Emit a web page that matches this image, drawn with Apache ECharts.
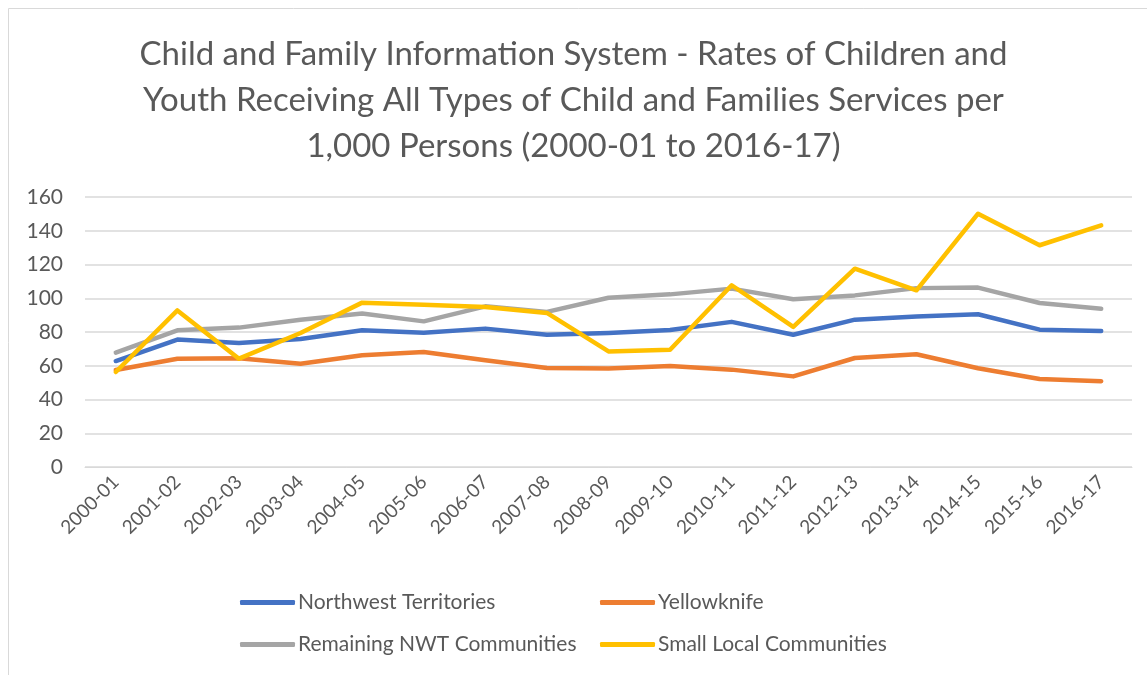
<!DOCTYPE html>
<html>
<head>
<meta charset="utf-8">
<script src="https://cdn.jsdelivr.net/npm/echarts@6/dist/echarts.min.js"></script>
<style>
  html, body { margin: 0; padding: 0; background: #fff; }
  #chart { width: 1147px; height: 675px; }
</style>
</head>
<body>
<div id="chart"></div>
<script>
const years = ['2000-01', '2001-02', '2002-03', '2003-04', '2004-05', '2005-06', '2006-07', '2007-08', '2008-09',
  '2009-10', '2010-11', '2011-12', '2012-13', '2013-14', '2014-15', '2015-16', '2016-17']
const nwt = [62.8, 75.5, 73.5, 75.8, 81, 79.6, 82, 78.4, 79.4, 81.2, 86, 78.4, 87.3, 89.2, 90.5, 81.4, 80.6]
const yellowknife = [57.5, 64.2, 64.4, 61.2, 66.2, 68.1, 63.2, 58.7, 58.3, 59.9, 57.7, 53.7, 64.6, 66.8, 58.5, 52.2, 50.8]
const remaining = [67.8, 81, 82.6, 87.3, 90.9, 86.3, 95.2, 91.9, 100.3, 102.3, 105.7, 99.4, 101.7, 106, 106.3, 97.2, 93.8]
const smallLocal = [56.3, 92.8, 64.2, 79.4, 97.4, 96.2, 94.8, 91.3, 68.5, 69.5, 107.7, 83, 117.5, 104.7, 150.1, 131.4, 143.2]

const names = ['Northwest Territories', 'Yellowknife', 'Remaining NWT Communities', 'Small Local Communities']
const colors = ['#4472C4', '#ED7D31', '#A5A5A5', '#FFC000']
const values = [nwt, yellowknife, remaining, smallLocal]

const font = 'Lato, "Open Sans", sans-serif'
const textColor = '#595959'

const chart = echarts.init(document.getElementById('chart'))

const legendPos = [
  { left: 235, top: 587 },
  { left: 595, top: 587 },
  { left: 235, top: 629 },
  { left: 595, top: 629 }
]

chart.setOption({
  animation: false,
  textStyle: { fontFamily: font },
  title: {
    text: 'Child and Family Information System - Rates of Children and\nYouth Receiving All Types of Child and Families Services per\n1,000 Persons (2000-01 to 2016-17)',
    left: 'center',
    top: 26,
    textStyle: { fontFamily: font, fontSize: 33, fontWeight: 'normal', color: textColor, lineHeight: 46 }
  },
  graphic: [{
    type: 'rect',
    shape: { x: 8.5, y: 8.5, width: 1300, height: 800 },
    style: { fill: 'none', stroke: '#d9d9d9', lineWidth: 1 },
    silent: true
  }],
  legend: names.map((n, i) => ({
    data: [n],
    left: legendPos[i].left,
    top: legendPos[i].top,
    icon: 'roundRect',
    itemWidth: 55,
    itemHeight: 5,
    itemGap: 5,
    textStyle: { fontFamily: font, fontSize: 21, color: textColor, padding: [0, 0, 0, -2] }
  })),
  grid: { left: 85, right: 15, top: 197, height: 270, containLabel: false },
  xAxis: {
    type: 'category',
    data: years,
    boundaryGap: true,
    axisLine: { show: true, lineStyle: { color: '#d9d9d9' } },
    axisTick: { show: false },
    axisLabel: { rotate: 45, fontSize: 19, color: textColor, margin: 12, fontFamily: font }
  },
  yAxis: {
    type: 'value',
    min: 0,
    max: 160,
    interval: 20,
    axisLine: { show: false },
    axisTick: { show: false },
    axisLabel: { fontSize: 21, color: textColor, margin: 22, fontFamily: font },
    splitLine: { lineStyle: { color: '#d9d9d9', width: 1.5 } }
  },
  series: names.map((n, i) => ({
    name: n,
    type: 'line',
    data: values[i],
    symbol: 'none',
    color: colors[i],
    lineStyle: { width: 4.5, color: colors[i], cap: 'round', join: 'round' }
  }))
})
</script>
</body>
</html>
